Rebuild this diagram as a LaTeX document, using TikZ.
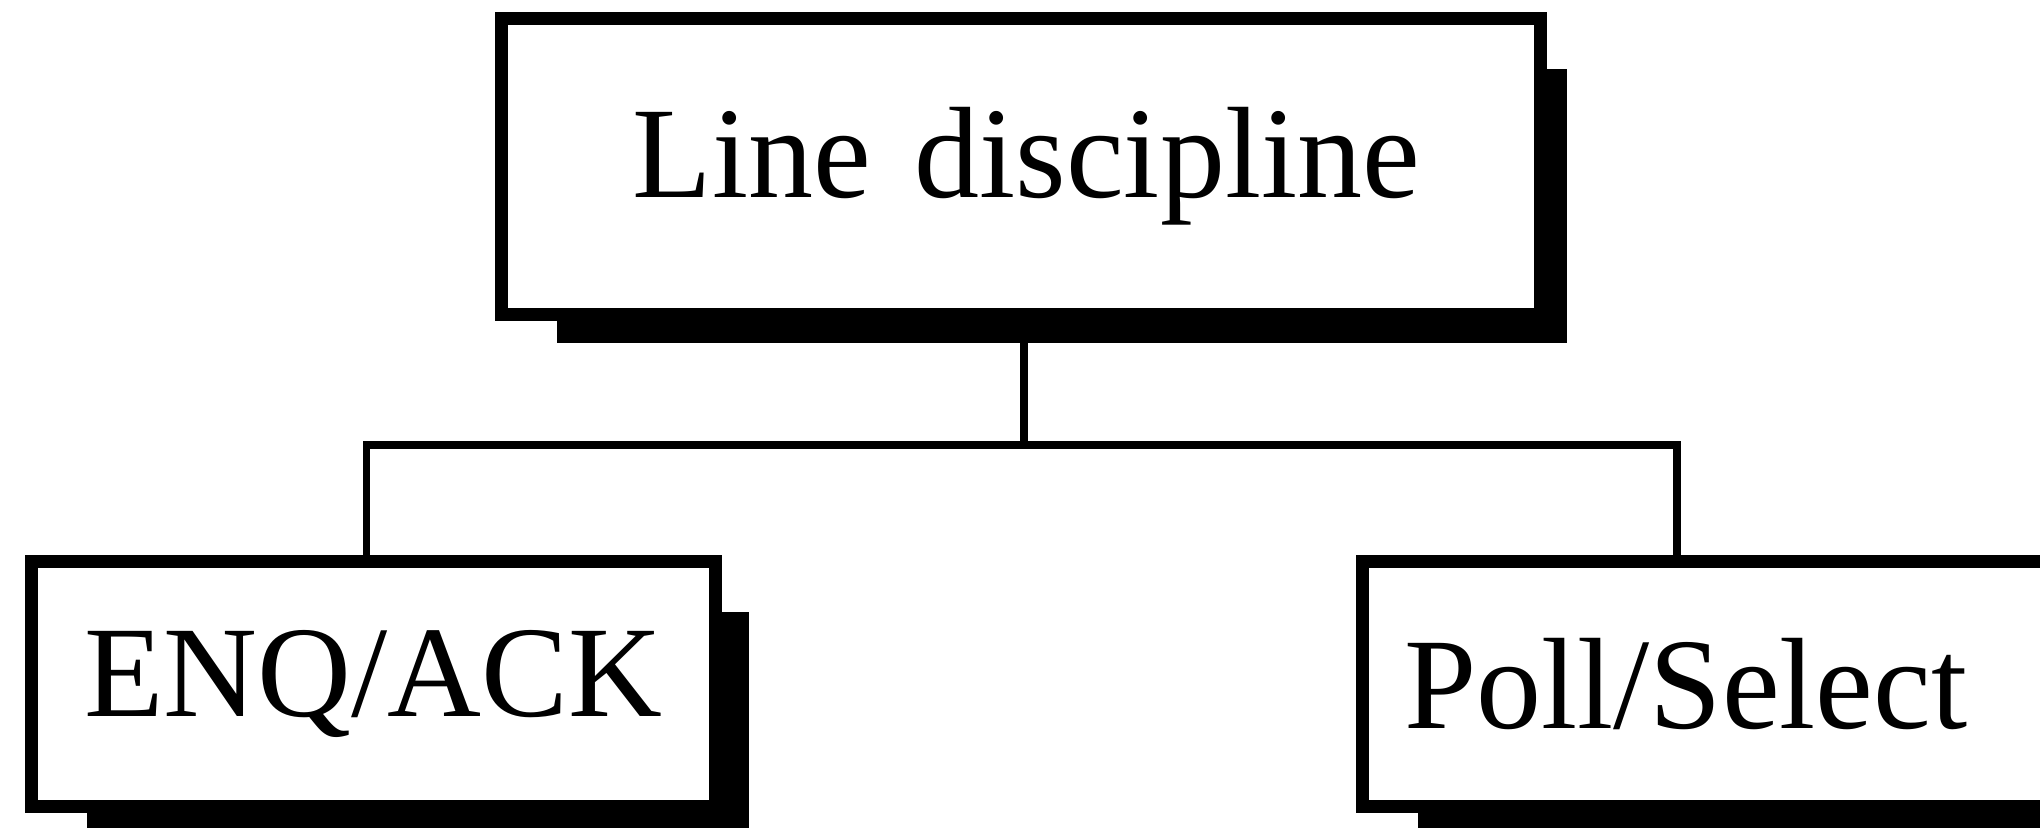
\documentclass[tikz,border=0pt]{standalone}
\usepackage{fontspec}
\setmainfont{Liberation Serif}
\usepackage{tikz}
\usetikzlibrary{calc, backgrounds}

\newcommand{\discfont}{\fontsize{37}{44}\selectfont}

\tikzset{
  discbox/.style={draw, fill=white, line width=3.7pt, inner sep=0pt, font=\discfont},
  wire/.style={line width=2pt}
}

\begin{document}
\begin{tikzpicture}
			\useasboundingbox (0,0) rectangle (20.40,8.27);
			
			% boxes
			\node[discbox, minimum height=2.96cm, text width=7.98cm, inner xsep=1.205cm, align=right] (disc) at (10.21,6.605) {Line discipline};
			\node[discbox, minimum width=6.84cm, minimum height=2.45cm] (enq) at (3.735,1.43) {ENQ/ACK};
			\node[discbox, minimum height=2.45cm, text width=6.08cm, inner xsep=0.415cm, align=left] (poll) at (17.08,1.43) {Poll/Select};
			
			% shadows
			\begin{scope}[on background layer]
			\foreach \n/\dx in {disc/0.20, enq/0.27, poll/0.27}
			\fill ($(\n.north west)+(0.62,-0.57)$) rectangle ($(\n.south east)+(\dx,-0.22)$);
			\end{scope}
			
			% tree lines
			\draw[wire] ([xshift=0.03cm]disc.south) -- ++(0,-1.24) coordinate (split);
			\draw[wire] ([xshift=-0.07cm]enq.north) |- (split) -| ([xshift=-0.31cm]poll.north);
		\end{tikzpicture}
\end{document}
